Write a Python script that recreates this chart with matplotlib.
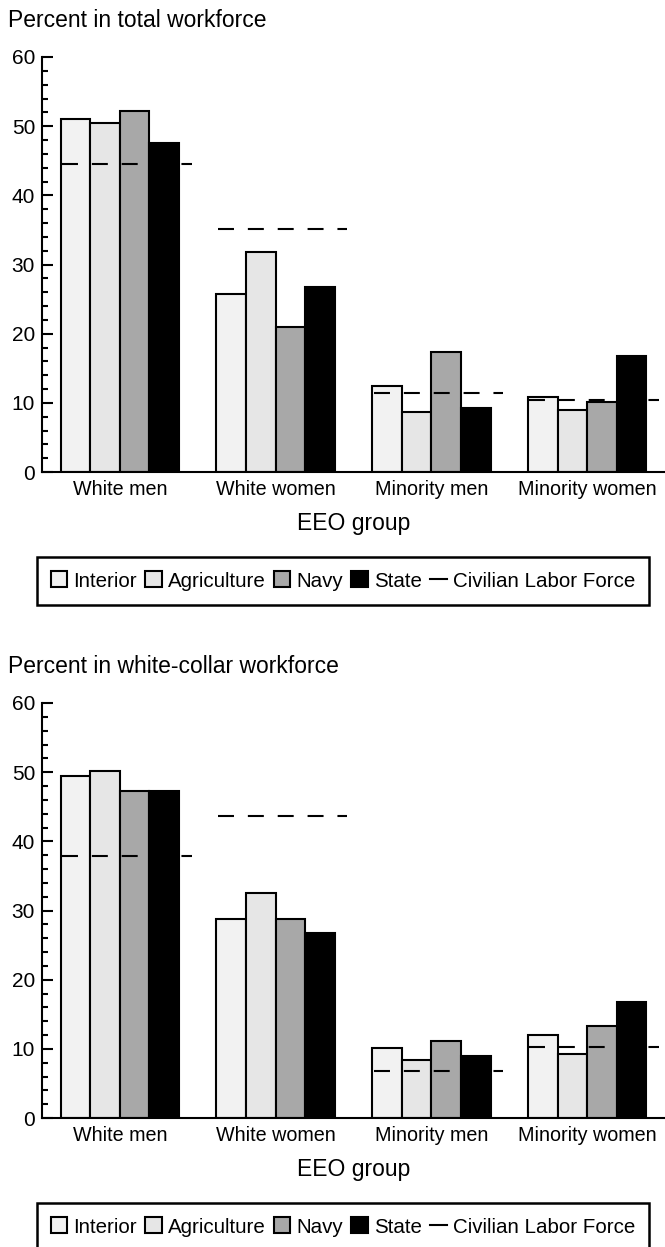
import numpy as np
import matplotlib
matplotlib.use('Agg')
import matplotlib.pyplot as plt
from matplotlib.lines import Line2D
from matplotlib.ticker import MultipleLocator

plt.rcParams['font.family'] = ['Liberation Sans', 'DejaVu Sans']
plt.rcParams['lines.scale_dashes'] = False

# ==============================
# Data (percent)
# ==============================
groups = ['White men', 'White women', 'Minority men', 'Minority women']
agencies = ['Interior', 'Agriculture', 'Navy', 'State']
colors = ['#f2f2f2', '#e6e6e6', '#a8a8a8', '#000000']

total_interior = [51.0, 25.7, 12.4, 10.8]
total_agriculture = [50.4, 31.8, 8.7, 9.0]
total_navy = [52.2, 20.9, 17.3, 10.1]
total_state = [47.6, 26.7, 9.3, 16.8]
total_clf = [44.6, 35.2, 11.4, 10.4]

wc_interior = [49.4, 28.8, 10.1, 12.0]
wc_agriculture = [50.2, 32.5, 8.4, 9.3]
wc_navy = [47.3, 28.7, 11.1, 13.3]
wc_state = [47.3, 26.7, 8.9, 16.7]
wc_clf = [37.9, 43.6, 6.8, 10.3]

W, H = 665, 1247
fig = plt.figure(figsize=(W / 100, H / 100), dpi=100)

x = np.arange(len(groups))
bw = 0.19


def draw_panel(top_px, title, series, clf):
    ax = fig.add_axes([42 / W, 1 - (top_px + 415) / H, 623 / W, 415 / H])
    bars = []
    for k, vals in enumerate(series):
        b = ax.bar(x + (k - 1.5) * bw, vals, width=bw, color=colors[k],
                   edgecolor='black', linewidth=1.5, label=agencies[k], zorder=2)
        bars.append(b)
    ax.hlines(clf, x - 0.37, x + 0.46, colors='black', linewidth=1.5,
              linestyles=[(0, (11.5, 10.0))], zorder=3)
    ax.set_xlim(-0.5, 3.5)
    ax.set_ylim(0, 60)
    ax.yaxis.set_major_locator(MultipleLocator(10))
    ax.yaxis.set_minor_locator(MultipleLocator(2))
    ax.tick_params(axis='y', which='major', direction='in', length=8, width=1.5,
                   labelsize=15, pad=5)
    ax.tick_params(axis='y', which='minor', direction='in', length=4, width=1.5)
    ax.set_xticks(x)
    ax.set_xticklabels(groups)
    ax.tick_params(axis='x', length=0, labelsize=14.2, pad=6)
    for s in ['top', 'right']:
        ax.spines[s].set_visible(False)
    for s in ['left', 'bottom']:
        ax.spines[s].set_linewidth(1.5)
    ax.set_xlabel('EEO group', fontsize=16.5, labelpad=9)
    fig.text(8 / W, 1 - (top_px - 30) / H, title, fontsize=16.5, va='baseline', ha='left')

    handles = bars + [Line2D([], [], color='black', linewidth=1.5)]
    labels = agencies + ['Civilian Labor Force']
    leg = fig.legend(handles, labels, loc='center', ncol=5,
                     bbox_to_anchor=(343 / W, 1 - (top_px + 524) / H),
                     fontsize=14.8, handlelength=0.8, handleheight=0.8,
                     handletextpad=0.3, columnspacing=0.4, borderpad=0.7,
                     fancybox=False, framealpha=1, edgecolor='black')
    leg.get_frame().set_linewidth(1.8)
    return ax


draw_panel(57, 'Percent in total workforce',
           [total_interior, total_agriculture, total_navy, total_state], total_clf)
draw_panel(703, 'Percent in white-collar workforce',
           [wc_interior, wc_agriculture, wc_navy, wc_state], wc_clf)

plt.savefig('out.png', dpi=100)
